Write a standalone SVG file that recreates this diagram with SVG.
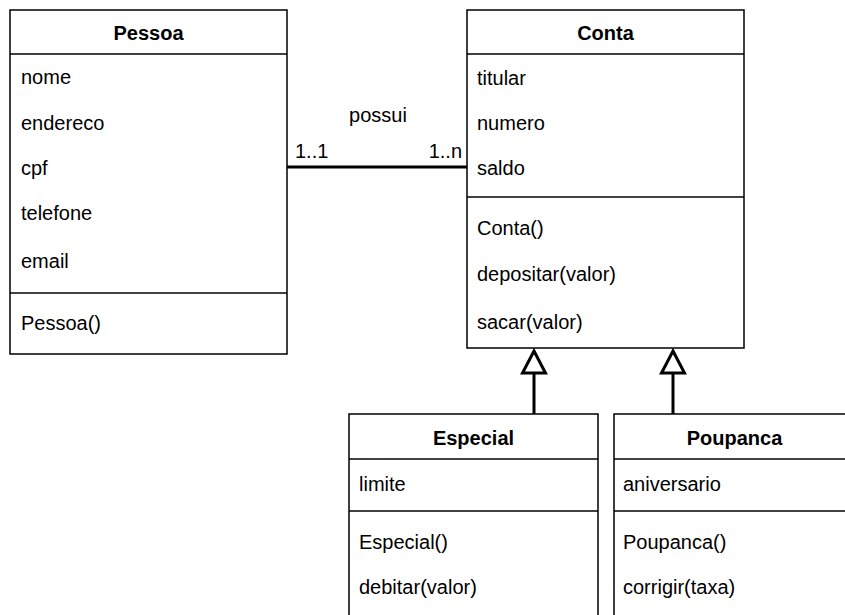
<svg xmlns="http://www.w3.org/2000/svg" width="845" height="615" viewBox="0 0 845 615">
  <style>
    .box { fill: #ffffff; stroke: #000000; stroke-width: 1.5; }
    .sep { stroke: #000000; stroke-width: 1.5; fill: none; }
    .title { font-family: "Liberation Sans", Arial, Helvetica, sans-serif; font-size: 20px; font-weight: bold; fill: #000000; text-anchor: middle; }
    .item { font-family: "Liberation Sans", Arial, Helvetica, sans-serif; font-size: 20px; fill: #000000; }
    .label { font-family: "Liberation Sans", Arial, Helvetica, sans-serif; font-size: 20px; fill: #000000; }
    .edge { stroke: #000000; stroke-width: 3; fill: none; }
    .gen { stroke: #000000; stroke-width: 3; fill: #ffffff; stroke-linejoin: miter; }
  </style>

  <rect width="845" height="615" fill="#ffffff"/>

  <!-- Pessoa -->
  <g id="pessoa">
    <rect class="box" x="10" y="10" width="277" height="344"/>
    <line class="sep" x1="10" y1="54" x2="287" y2="54"/>
    <line class="sep" x1="10" y1="293" x2="287" y2="293"/>
    <text class="title" x="148.5" y="40">Pessoa</text>
    <text class="item" x="21" y="84">nome</text>
    <text class="item" x="21" y="130">endereco</text>
    <text class="item" x="21" y="175">cpf</text>
    <text class="item" x="21" y="220">telefone</text>
    <text class="item" x="21" y="268">email</text>
    <text class="item" x="21" y="330">Pessoa()</text>
  </g>

  <!-- Conta -->
  <g id="conta">
    <rect class="box" x="467" y="10" width="277" height="338"/>
    <line class="sep" x1="467" y1="54" x2="744" y2="54"/>
    <line class="sep" x1="467" y1="197" x2="744" y2="197"/>
    <text class="title" x="605.5" y="40">Conta</text>
    <text class="item" x="477" y="85">titular</text>
    <text class="item" x="477" y="130">numero</text>
    <text class="item" x="477" y="175">saldo</text>
    <text class="item" x="477" y="235">Conta()</text>
    <text class="item" x="477" y="281">depositar(valor)</text>
    <text class="item" x="477" y="329">sacar(valor)</text>
  </g>

  <!-- Especial -->
  <g id="especial">
    <rect class="box" x="349" y="414" width="249" height="230"/>
    <line class="sep" x1="349" y1="459" x2="598" y2="459"/>
    <line class="sep" x1="349" y1="511" x2="598" y2="511"/>
    <text class="title" x="473.5" y="445">Especial</text>
    <text class="item" x="359" y="491">limite</text>
    <text class="item" x="359" y="549">Especial()</text>
    <text class="item" x="359" y="594">debitar(valor)</text>
  </g>

  <!-- Poupanca -->
  <g id="poupanca">
    <rect class="box" x="614" y="414" width="241" height="230"/>
    <line class="sep" x1="614" y1="459" x2="855" y2="459"/>
    <line class="sep" x1="614" y1="511" x2="855" y2="511"/>
    <text class="title" x="734.5" y="445">Poupanca</text>
    <text class="item" x="623" y="491">aniversario</text>
    <text class="item" x="623" y="549">Poupanca()</text>
    <text class="item" x="623" y="594">corrigir(taxa)</text>
  </g>

  <!-- Connectors -->
  <g id="connectors">
    <!-- association Pessoa - Conta -->
    <line class="edge" x1="287" y1="167" x2="467" y2="167"/>
    <text class="label" x="378" y="122" text-anchor="middle">possui</text>
    <text class="label" x="295" y="158">1..1</text>
    <text class="label" x="462" y="158" text-anchor="end">1..n</text>

    <!-- generalization Especial -> Conta -->
    <line class="edge" x1="534" y1="414" x2="534" y2="373"/>
    <polygon class="gen" points="534,351 545.5,373 522.5,373"/>

    <!-- generalization Poupanca -> Conta -->
    <line class="edge" x1="673" y1="414" x2="673" y2="373"/>
    <polygon class="gen" points="673,351 684.5,373 661.5,373"/>
  </g>
</svg>
